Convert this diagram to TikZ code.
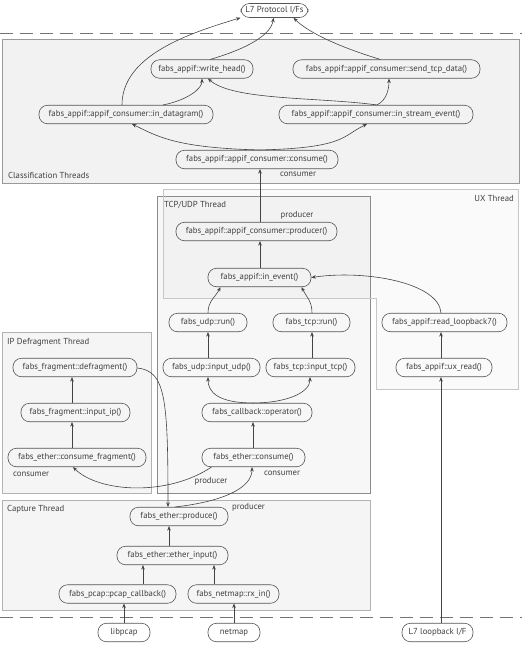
\documentclass[tikz,border=0pt]{standalone}
\usepackage{fontspec}
\setmainfont{PT Sans}
\usetikzlibrary{arrows.meta}
\definecolor{nodeline}{HTML}{555555}
\definecolor{edgeline}{HTML}{444444}
\tikzset{
  fn/.style={draw=nodeline, line width=0.6pt, rectangle, rounded corners=8.5pt,
    minimum height=18.5pt, inner sep=0pt, font=\fontsize{8.7}{9}\selectfont, text=black!75},
  lbl/.style={font=\fontsize{8.7}{9}\selectfont, text=black!75, inner sep=0pt},
  ar/.style={draw=edgeline, line width=0.6pt, -{Stealth[length=4.5pt,width=3.6pt]}},
  region/.style={line width=1pt},
}
\begin{document}
\begin{tikzpicture}[x=1pt,y=-1pt]
\useasboundingbox (0,0) rectangle (522,649);
% regions
\draw[region, draw=black!40, fill=black!5] (2,39) rectangle (519,183);
\draw[region, draw=black!45, fill=black!3] (157,196) rectangle (370,493);
\draw[region, draw=black!22, fill=black!40, fill opacity=0.05] (163,189) -- (518,189) -- (518,389) -- (376,389) -- (376,298) -- (163,298) -- cycle;
\draw[region, draw=black!30, fill=black!4] (2,332) rectangle (151,493);
\draw[region, draw=black!30, fill=black!4] (2,500) rectangle (370,610);
\draw[dashed, dash pattern=on 13pt off 7pt, draw=black!55, line width=0.8pt] (0,33) -- (522,33);
\draw[dashed, dash pattern=on 13pt off 7pt, draw=black!55, line width=0.8pt] (0,617) -- (522,617);
% region labels
\node[lbl, anchor=west] (tClass) at (8,175) {Classification Threads};
\node[lbl, anchor=east] (tUX) at (514,199) {UX Thread};
\node[lbl, anchor=west] (tTCP) at (164,205) {TCP/UDP Thread};
\node[lbl, anchor=west] (tIP) at (7,342) {IP Defragment Thread};
\node[lbl, anchor=west] (tCap) at (7,509) {Capture Thread};
% nodes
\node[fn, minimum width=67pt, minimum height=14pt] (l7) at (274.5,10.5) {L7 Protocol I/Fs};
\node[fn, minimum width=102pt] (wh) at (202,69) {fabs\_appif::write\_head()};
\node[fn, minimum width=187pt] (std) at (386.5,69) {fabs\_appif::appif\_consumer::send\_tcp\_data()};
\node[fn, minimum width=174pt] (idg) at (126,114.5) {fabs\_appif::appif\_consumer::in\_datagram()};
\node[fn, minimum width=194pt] (ise) at (376,114.5) {fabs\_appif::appif\_consumer::in\_stream\_event()};
\node[fn, minimum width=162pt] (acons) at (257,159.5) {fabs\_appif::appif\_consumer::consume()};
\node[fn, minimum width=161pt] (aprod) at (256.5,231.5) {fabs\_appif::appif\_consumer::producer()};
\node[fn, minimum width=103pt] (iev) at (259.5,277.5) {fabs\_appif::in\_event()};
\node[fn, minimum width=78pt] (urun) at (208,322.5) {fabs\_udp::run()};
\node[fn, minimum width=77pt] (trun) at (311.5,322.5) {fabs\_tcp::run()};
\node[fn, minimum width=125pt] (rl7) at (444.5,322.5) {fabs\_appif::read\_loopback7()};
\node[fn, minimum width=97pt] (iudp) at (211.5,367.5) {fabs\_udp::input\_udp()};
\node[fn, minimum width=89pt] (itcp) at (310.5,367.5) {fabs\_tcp::input\_tcp()};
\node[fn, minimum width=96pt] (uxr) at (444,367.5) {fabs\_appif::ux\_read()};
\node[fn, minimum width=124pt] (defr) at (75,367.5) {fabs\_fragment::defragment()};
\node[fn, minimum width=109pt] (iip) at (75.5,412.5) {fabs\_fragment::input\_ip()};
\node[fn, minimum width=138pt] (cfr) at (77,457.5) {fabs\_ether::consume\_fragment()};
\node[fn, minimum width=110pt] (cbop) at (257,412.5) {fabs\_callback::operator()};
\node[fn, minimum width=103pt] (econs) at (253.5,457.5) {fabs\_ether::consume()};
\node[fn, minimum width=98pt] (eprod) at (179,516.5) {fabs\_ether::produce()};
\node[fn, minimum width=111pt] (ein) at (172.5,555.5) {fabs\_ether::ether\_input()};
\node[fn, minimum width=117pt] (pcb) at (117.5,594) {fabs\_pcap::pcap\_callback()};
\node[fn, minimum width=91pt] (rxin) at (233.5,594) {fabs\_netmap::rx\_in()};
\node[fn, minimum width=52pt] (lpcap) at (124,632.5) {libpcap};
\node[fn, minimum width=52pt] (nmap) at (234,632.5) {netmap};
\node[fn, minimum width=71pt] (l7lb) at (437.5,632.5) {L7 loopback I/F};
% role labels
\node[lbl] (c1) at (298,174) {consumer};
\node[lbl] (p1) at (297,215) {producer};
\node[lbl, anchor=west] (c2) at (13,474) {consumer};
\node[lbl] (c3) at (282,473) {consumer};
\node[lbl] (p2) at (211,481) {producer};
\node[lbl] (p3) at (248.5,507) {producer};
% edges: classification
\draw[ar] ([xshift=-4pt]idg.north) .. controls +(0,-50) and +(-50,15) .. ([xshift=-34pt]l7.south);
\draw[ar] ([xshift=8pt]wh.north) .. controls +(28,-8) and +(-3,20) .. ([xshift=-1pt]l7.south);
\draw[ar] ([xshift=-6pt]std.north) .. controls +(-40,-12) and +(15,15) .. ([xshift=19pt]l7.south);
\draw[ar] ([xshift=37pt]idg.north) .. controls +(25,-5) and +(0,10) .. (wh.south);
\draw[ar] ([xshift=1pt]ise.north) .. controls +(-60,-8) and +(25,22) .. ([xshift=6pt]wh.south);
\draw[ar] ([xshift=1pt]ise.north) .. controls +(10,-5) and +(0,10) .. ([xshift=2.5pt]std.south);
\draw[ar] ([xshift=3pt]acons.north) .. controls +(-85,-2) and +(25,12) .. ([xshift=6pt]idg.south);
\draw[ar] ([xshift=3pt]acons.north) .. controls +(85,-2) and +(-25,12) .. ([xshift=-9pt]ise.south);
% edges: TCP/UDP and UX
\draw[ar] ([xshift=3.5pt]aprod.north) -- ([xshift=3pt]acons.south);
\draw[ar] ([xshift=0.5pt]iev.north) -- ([xshift=3.5pt]aprod.south);
\draw[ar] (urun.north) .. controls +(0,-12) and +(-5,10) .. ([xshift=-39pt]iev.south);
\draw[ar] ([xshift=0.5pt]trun.north) .. controls +(0,-12) and +(5,10) .. ([xshift=42pt]iev.south);
\draw[ar] ([xshift=-3.5pt]rl7.north) .. controls +(-2,-30) and +(55,-8) .. (iev.east);
\draw[ar] ([xshift=-3.5pt]iudp.north) -- (urun.south);
\draw[ar] ([xshift=1.5pt]itcp.north) -- ([xshift=0.5pt]trun.south);
\draw[ar] ([xshift=-3pt]uxr.north) -- ([xshift=-3.5pt]rl7.south);
\draw[ar] ([xshift=-4pt]cbop.north) .. controls +(-35,0) and +(0,15) .. ([xshift=-3.5pt]iudp.south);
\draw[ar] ([xshift=-4pt]cbop.north) .. controls +(35,0) and +(0,15) .. ([xshift=-0.5pt]itcp.south);
\draw[ar] ([xshift=-0.5pt]econs.north) -- ([xshift=-4pt]cbop.south);
% edges: IP defragment
\draw[ar] ([xshift=-5pt]cfr.north) -- ([xshift=-3.5pt]iip.south);
\draw[ar] ([xshift=-3.5pt]iip.north) -- ([xshift=-3pt]defr.south);
\draw[ar] ([xshift=-42pt]econs.south) .. controls +(-45,30) and +(25,25) .. ([xshift=-4pt]cfr.south);
\draw[ar] ([yshift=-0.5pt]defr.east) .. controls +(28,3) and +(0,-110) .. ([xshift=-11pt]eprod.north);
\draw[ar] ([xshift=-4pt]eprod.north) .. controls +(45,-5) and +(0,22) .. ([xshift=-1.5pt]econs.south);
% edges: capture
\draw[ar] ([xshift=-3.5pt]ein.north) -- ([xshift=-10pt]eprod.south);
\draw[ar] ([xshift=25.5pt]pcb.north) -- ([xshift=-29.5pt]ein.south);
\draw[ar] ([xshift=-19.5pt]rxin.north) -- ([xshift=41.5pt]ein.south);
\draw[ar] (lpcap.north) -- ([xshift=6.5pt]pcb.south);
\draw[ar] (nmap.north) -- ([xshift=0.5pt]rxin.south);
\draw[ar] ([xshift=3.5pt]l7lb.north) -- ([xshift=-3pt]uxr.south);
\end{tikzpicture}
\end{document}
